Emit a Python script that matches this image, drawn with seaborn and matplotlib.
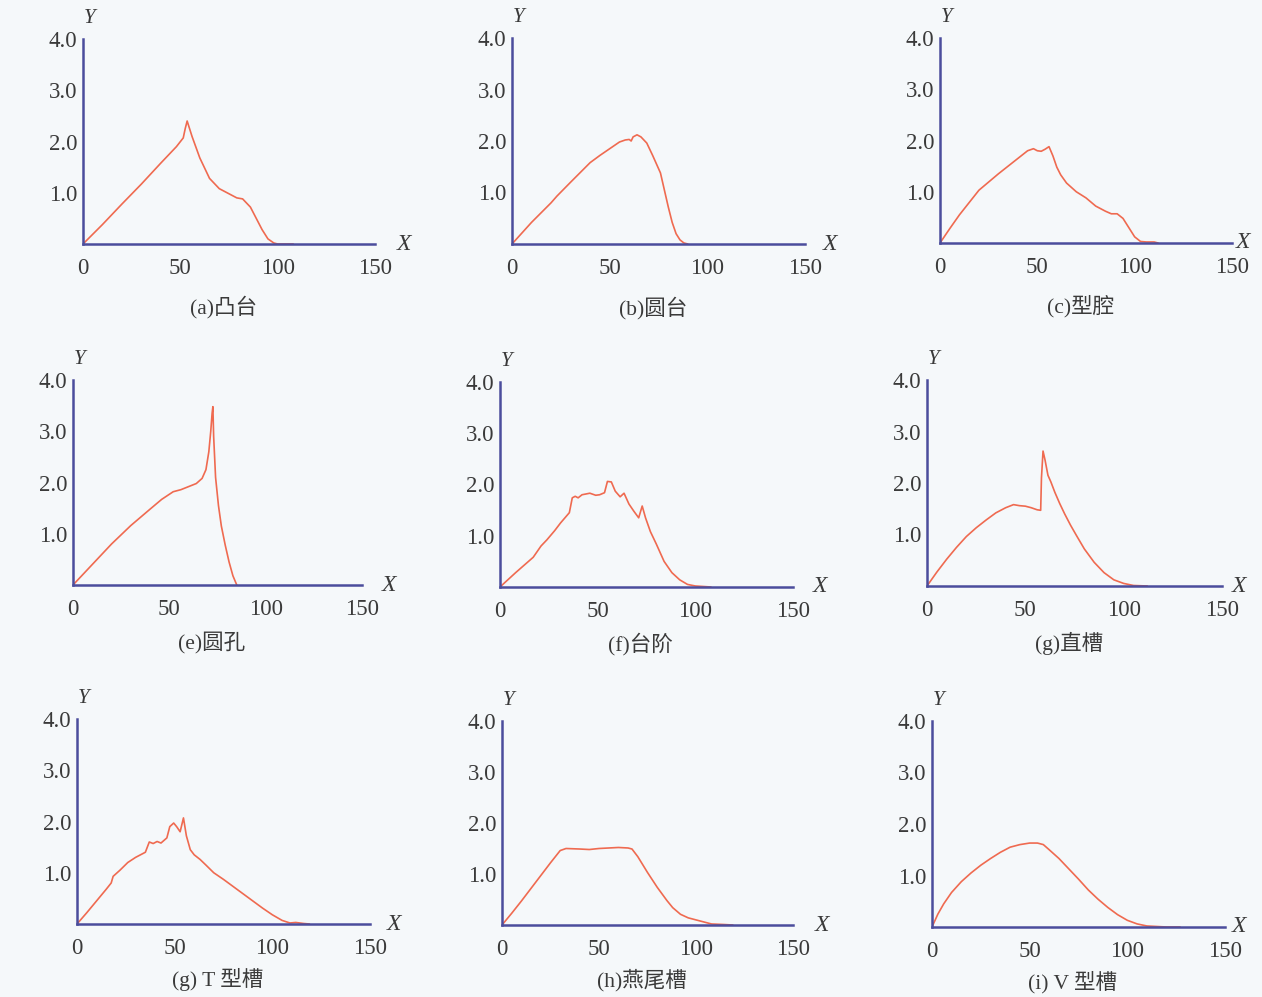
import matplotlib
matplotlib.use("Agg")
import matplotlib.pyplot as plt
import seaborn as sns

# Curve data (X, Y)
a_x = [0, 10, 20, 30, 40, 48, 51.5, 52.5, 53.5, 56, 60, 65, 70, 75, 79, 82, 86, 89, 92, 95, 98, 100, 108]
a_y = [0, 0.38, 0.78, 1.17, 1.58, 1.9, 2.07, 2.25, 2.4, 2.1, 1.68, 1.28, 1.08, 0.98, 0.9, 0.88, 0.72, 0.5, 0.28, 0.1, 0.02, 0, 0]

b_x = [0, 10, 20, 23, 30, 40, 45, 50, 55, 58, 60, 61, 62, 64, 66, 69, 72, 74, 76, 78, 80, 82, 84, 86, 88, 90]
b_y = [0, 0.42, 0.8, 0.93, 1.2, 1.58, 1.72, 1.85, 1.98, 2.02, 2.03, 2.0, 2.08, 2.12, 2.08, 1.96, 1.72, 1.55, 1.38, 1.05, 0.72, 0.42, 0.2, 0.08, 0.02, 0]

c_x = [0, 5, 10, 20, 30, 40, 45, 48, 50, 52, 54, 56, 58, 60, 62, 65, 70, 75, 80, 85, 88, 91, 94, 97, 100, 103, 106, 110, 112]
c_y = [0, 0.28, 0.55, 1.03, 1.35, 1.65, 1.8, 1.84, 1.8, 1.79, 1.83, 1.88, 1.7, 1.48, 1.33, 1.17, 1.0, 0.88, 0.72, 0.62, 0.57, 0.57, 0.48, 0.3, 0.12, 0.03, 0.02, 0.02, 0]

e_x = [0, 10, 20, 30, 40, 46, 52, 56, 60, 64, 67, 69, 70.5, 71.5, 72.2, 72.6, 73, 74, 75.5, 77, 79, 81, 83, 85]
e_y = [0, 0.4, 0.8, 1.16, 1.48, 1.67, 1.82, 1.86, 1.92, 1.98, 2.08, 2.25, 2.6, 3.0, 3.35, 3.48, 2.9, 2.1, 1.55, 1.15, 0.78, 0.45, 0.18, 0]

f_x = [0, 8, 17, 21, 24, 28, 31, 35.5, 37, 38.5, 40, 42, 46, 49, 51, 53.5, 55, 57, 59, 61.5, 63.5, 66, 68.5, 71, 72.8, 74.5, 77, 80, 84, 88, 92, 96, 100, 104, 108]
f_y = [0, 0.28, 0.58, 0.8, 0.92, 1.1, 1.25, 1.45, 1.74, 1.77, 1.74, 1.8, 1.83, 1.79, 1.8, 1.84, 2.06, 2.05, 1.87, 1.76, 1.83, 1.62, 1.48, 1.35, 1.58, 1.35, 1.08, 0.84, 0.5, 0.28, 0.14, 0.05, 0.02, 0.01, 0]

g_x = [0, 5, 10, 15, 20, 25, 30, 35, 40, 44, 47, 50, 53, 56, 57.8, 58.2, 59, 60, 61.5, 63, 65, 67.5, 70, 73, 76, 80, 85, 90, 95, 100, 105, 112]
g_y = [0, 0.27, 0.52, 0.75, 0.96, 1.13, 1.28, 1.42, 1.52, 1.58, 1.56, 1.55, 1.52, 1.48, 1.47, 2.1, 2.62, 2.45, 2.15, 2.02, 1.82, 1.6, 1.4, 1.18, 0.98, 0.72, 0.46, 0.26, 0.12, 0.05, 0.01, 0]

t_x = [0, 5, 10, 15, 17.5, 18.5, 22, 26, 30, 35, 37, 39, 41, 43, 46, 47.5, 49.5, 51, 52.8, 54.5, 56, 58, 60, 63, 66, 70, 75, 80, 85, 90, 95, 100, 105, 109, 112, 116, 119]
t_y = [0, 0.22, 0.45, 0.68, 0.8, 0.93, 1.05, 1.2, 1.3, 1.4, 1.6, 1.57, 1.61, 1.58, 1.68, 1.9, 1.97, 1.9, 1.8, 2.07, 1.72, 1.45, 1.35, 1.26, 1.15, 1.0, 0.87, 0.73, 0.59, 0.45, 0.31, 0.18, 0.07, 0.02, 0.03, 0.01, 0]

h_x = [0, 5, 10, 15, 20, 25, 30, 33, 40, 45, 50, 55, 60, 65, 67, 70, 75, 80, 85, 88, 92, 96, 100, 104, 108, 114, 119]
h_y = [0, 0.23, 0.47, 0.72, 0.97, 1.22, 1.46, 1.5, 1.49, 1.48, 1.5, 1.51, 1.52, 1.51, 1.49, 1.34, 1.03, 0.74, 0.48, 0.34, 0.21, 0.14, 0.1, 0.06, 0.02, 0.01, 0]

i_x = [0, 3, 6, 10, 15, 20, 25, 30, 35, 40, 45, 50, 54, 57, 60, 65, 70, 75, 80, 85, 90, 95, 100, 105, 110, 115, 120, 127]
i_y = [0, 0.25, 0.45, 0.67, 0.88, 1.05, 1.2, 1.33, 1.45, 1.55, 1.6, 1.63, 1.63, 1.6, 1.5, 1.33, 1.13, 0.93, 0.72, 0.54, 0.38, 0.24, 0.13, 0.06, 0.02, 0.01, 0, 0]

captions = ["(a)凸台", "(b)圆台", "(c)型腔",
            "(e)圆孔", "(f)台阶", "(g)直槽",
            "(g) T 型槽", "(h)燕尾槽", "(i) V 型槽"]
curves = [(a_x, a_y), (b_x, b_y), (c_x, c_y),
          (e_x, e_y), (f_x, f_y), (g_x, g_y),
          (t_x, t_y), (h_x, h_y), (i_x, i_y)]

x_ticks = [0, 50, 100, 150]
y_ticks = [1, 2, 3, 4]
y_tick_labels = ["1.0", "2.0", "3.0", "4.0"]

# axes boxes in pixels: left, top, right, bottom
W, H = 1262, 997
boxes = [(83, 39, 375, 244), (512, 38, 805, 244), (940, 38, 1232, 243),
         (73, 380, 362, 585), (500, 382, 793, 587), (927, 380, 1222, 586),
         (77, 719, 370, 924), (502, 721, 793, 925), (932, 721, 1225, 927)]
cap_offset = [-0.31, -0.31, -0.31, -0.28, -0.28, -0.28, -0.27, -0.27, -0.27]
x_label_pad = [16, 13, 3, 14, 14, 7, 12, 16, 5]

sns.set_theme(style="white")
plt.rcParams['font.family'] = ['Liberation Serif', 'Noto Sans CJK SC']

axis_color = "#4b4d9c"
line_color = "#ef6a50"
text_color = "#3a3a3a"
bg = "#f5f8fa"

fig = plt.figure(figsize=(W / 100, H / 100), dpi=100, facecolor=bg)

for k, (l, t, r, b) in enumerate(boxes):
    ax = fig.add_axes([l / W, 1 - b / H, (r - l) / W, (b - t) / H])
    ax.set_facecolor(bg)
    cx, cy = curves[k]
    sns.lineplot(x=cx, y=cy, ax=ax, color=line_color, linewidth=1.2,
                 sort=False, estimator=None)
    ax.set_xlim(0, 150)
    ax.set_ylim(0, 4)
    for s in ["top", "right"]:
        ax.spines[s].set_visible(False)
    for s in ["left", "bottom"]:
        ax.spines[s].set_color(axis_color)
        ax.spines[s].set_linewidth(1.8)
    ax.set_xticks(x_ticks)
    ax.set_yticks(y_ticks)
    ax.set_yticklabels(y_tick_labels)
    ax.tick_params(axis="both", direction="in", length=4, width=1.6,
                   color=axis_color, labelcolor=text_color, labelsize=16.5)
    ax.tick_params(axis="x", pad=10)
    ax.tick_params(axis="y", pad=4)
    ax.set_xlabel("")
    ax.set_ylabel("")
    ax.annotate("Y", xy=(0, 1), xycoords="axes fraction", xytext=(5, 8),
                textcoords="offset points", ha="center", va="bottom",
                fontsize=15, style="italic", color=text_color)
    ax.annotate("X", xy=(1, 0), xycoords="axes fraction",
                xytext=(x_label_pad[k], 0),
                textcoords="offset points", ha="left", va="center",
                fontsize=17, style="italic", color=text_color)
    ax.text(0.48, cap_offset[k], captions[k], transform=ax.transAxes,
            ha="center", va="center", fontsize=15.5, color=text_color)

fig.savefig("out.png", dpi=100, facecolor=bg)
